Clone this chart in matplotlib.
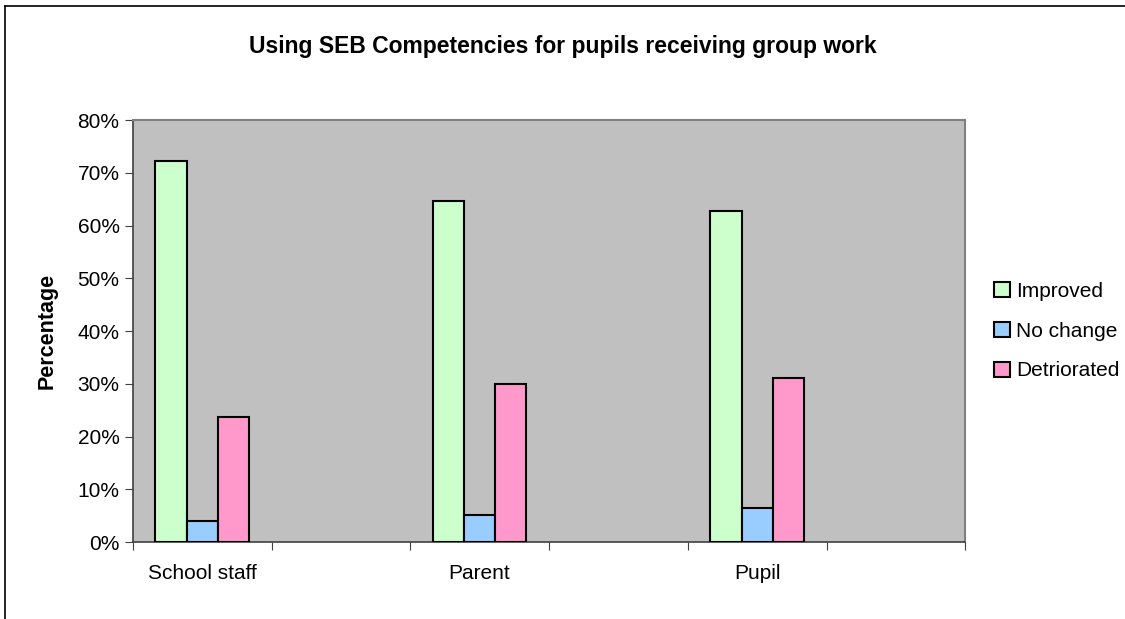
import matplotlib.pyplot as plt
from matplotlib.lines import Line2D
import numpy as np

plt.rcParams['font.family'] = "Liberation Sans"
plt.rcParams['font.size'] = 15

categories = ["School staff", "", "Parent", "", "Pupil", ""]
series = ["Improved", "No change", "Detriorated"]
improved = [72.3, 0, 64.7, 0, 62.7, 0]
no_change = [4.0, 0, 5.2, 0, 6.4, 0]
detriorated = [23.8, 0, 29.9, 0, 31.1, 0]
colors = ["#CCFFCC", "#99CCFF", "#FF99CC"]

fig = plt.figure(figsize=(11.25, 6.19), dpi=100)
ax = fig.add_axes([0.118, 0.124, 0.740, 0.682])
ax.set_facecolor("#C0C0C0")

x = np.arange(len(categories))
width = 0.225
shown = [i for i, c in enumerate(categories) if c]
for k, (name, vals, col) in enumerate(zip(series, [improved, no_change, detriorated], colors)):
    ax.bar(x[shown] + (k - 1) * width, [vals[i] for i in shown], width,
           color=col, edgecolor="black", lw=1.5, label=name, zorder=3)

ax.set_xlim(-0.5, len(categories) - 0.5)
ax.set_ylim(0, 80)
ax.set_yticks(range(0, 81, 10))
ax.set_yticklabels([f"{v}%" for v in range(0, 81, 10)])
ax.set_xticks(np.arange(len(categories) + 1) - 0.5)
ax.set_xticklabels([])
ax.set_xticks(x, categories, minor=True)
ax.tick_params(axis="x", which="minor", length=0, pad=16, labelsize=15)
ax.tick_params(axis="x", which="major", length=6, direction="out", color="#404040")
ax.tick_params(axis="y", length=6, direction="out", color="#404040", labelsize=15)

for s in ["top", "right"]:
    ax.spines[s].set_color("#808080")
    ax.spines[s].set_linewidth(1.5)
for s in ["left", "bottom"]:
    ax.spines[s].set_color("#404040")
    ax.spines[s].set_linewidth(1.2)

ax.set_ylabel("Percentage", fontweight="bold", fontsize=15.5, labelpad=14)
fig.text(0.5, 0.925, "Using SEB Competencies for pupils receiving group work",
         ha="center", va="center", fontweight="bold", fontsize=16.5)

ax.legend(loc="center left", bbox_to_anchor=(1.012, 0.5), frameon=False,
          handlelength=0.75, handleheight=0.75, handletextpad=0.3,
          labelspacing=1.0, fontsize=15)

# outer chart border
fig.add_artist(Line2D([0.004, 0.004], [0, 0.99], color="black", lw=1.2))
fig.add_artist(Line2D([0.004, 1], [0.99, 0.99], color="black", lw=1.2))

fig.savefig("out.png", dpi=100)
